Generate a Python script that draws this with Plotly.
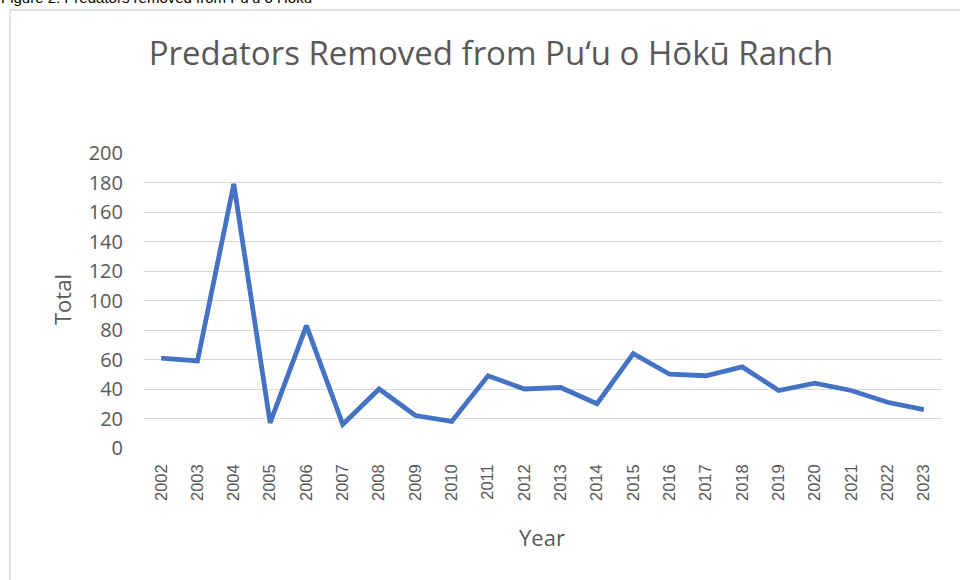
import plotly.graph_objects as go

years = [str(y) for y in range(2002, 2024)]
totals = [61, 59, 179, 17, 83, 16, 40, 22, 18, 49, 40, 41, 30, 64, 50, 49, 55, 39, 44, 39, 31, 26]
y_ticks = list(range(0, 201, 20))

title_text = "Predators Removed from Pu\u2018u o H\u014dk\u016b Ranch"
caption_text = "Figure 2: Predators removed from Pu\u2018u o H\u014dk\u016b"
x_title = "Year"
y_title = "Total"

L, R, T, B = 143, 18, 153, 132
W, H = 960, 580
pw, ph = W - L - R, H - T - B
GRAY = "#595959"
FONT = "Open Sans, Lato, sans-serif"

def px(x):
    return (x - L) / pw

def py(y):
    return (H - B - y) / ph

fig = go.Figure()
fig.add_trace(go.Scatter(
    x=years, y=totals, mode="lines",
    line=dict(color="#4472C4", width=4.8),
    hoverinfo="x+y", showlegend=False,
))

fig.update_layout(
    width=W, height=H,
    margin=dict(l=L, r=R, t=T, b=B),
    paper_bgcolor="white", plot_bgcolor="white",
    font=dict(family=FONT, color=GRAY),
    title=dict(text=title_text, xref="container", x=491 / W, xanchor="center",
               yref="container", y=1 - 53 / H, yanchor="middle",
               font=dict(size=33, color=GRAY, family=FONT)),
    xaxis=dict(
        type="category", range=[-0.5, len(years) - 0.5],
        tickangle=-90, tickfont=dict(size=16.5, color=GRAY, family="Liberation Sans, Arial"),
        ticklabelstandoff=12,
        showgrid=False, showline=False, ticks="",
    ),
    yaxis=dict(
        range=[0, 200], tickvals=y_ticks, ticks="",
        tickfont=dict(size=20, color=GRAY, family=FONT),
        ticklabelstandoff=19,
        gridcolor="#d9d9d9", gridwidth=1.3, zeroline=False, showline=False,
    ),
    shapes=[dict(type="rect", xref="paper", yref="paper",
                 x0=px(10), x1=px(990), y0=py(600), y1=py(10),
                 line=dict(color="#d9d9d9", width=1.3), fillcolor="rgba(0,0,0,0)", layer="below")],
    annotations=[
        dict(text=caption_text, xref="paper", yref="paper",
             x=px(-1), xanchor="left", y=py(8), yanchor="bottom",
             showarrow=False, font=dict(size=15, color="black", family="Liberation Sans, Arial")),
        dict(text=x_title, xref="paper", yref="paper",
             x=px(542), xanchor="center", y=py(537), yanchor="middle",
             showarrow=False, font=dict(size=22, color=GRAY, family=FONT)),
        dict(text=y_title, xref="paper", yref="paper", textangle=-90,
             x=px(62), xanchor="center", y=py(300), yanchor="middle",
             showarrow=False, font=dict(size=22, color=GRAY, family=FONT)),
    ],
)

fig.write_html("out.html", config={"displayModeBar": False},
               post_script="document.body.style.margin='0';document.body.style.overflow='hidden';")
